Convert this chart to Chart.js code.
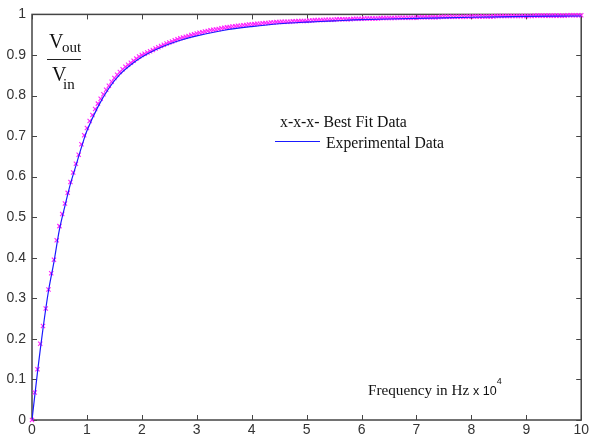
<!DOCTYPE html>
<html>
<head>
<meta charset="utf-8">
<script src="https://cdn.jsdelivr.net/npm/chart.js@4"></script>
<style>
  html, body { margin: 0; padding: 0; background: #fff; }
  #wrap { position: relative; width: 591px; height: 441px; }
  #chart { position: absolute; left: 0; top: 0; }
  .note { position: absolute; font-family: "Liberation Serif", "Times New Roman", serif; color: #111; white-space: nowrap; line-height: 1; }
  .sans { font-family: "Liberation Sans", Arial, sans-serif; }
</style>
</head>
<body>
<div id="wrap">
  <canvas id="chart" width="591" height="441"></canvas>

  <div class="note" style="left:49px;top:31px;font-size:20px;">V</div>
  <div class="note" style="left:62px;top:40px;font-size:15px;">out</div>
  <div style="position:absolute;left:47px;top:59px;width:34px;height:1px;background:#222;"></div>
  <div class="note" style="left:52px;top:64px;font-size:20px;">V</div>
  <div class="note" style="left:63px;top:77px;font-size:15px;">in</div>

  <div class="note" style="left:280px;top:114px;font-size:15.8px;">x-x-x- Best Fit Data</div>
  <div class="note" style="left:326px;top:135px;font-size:15.7px;">Experimental Data</div>

  <div class="note" style="left:368px;top:382px;font-size:15.2px;">Frequency in Hz <span class="sans" style="font-size:12.5px;">x 10</span><sup class="sans" style="font-size:9px;position:relative;top:-5px;">4</sup></div>
</div>
<script>
// frequency axis is in units of 10^4 Hz, best fit sampled every 0.05
const fitX = [
  0, 0.05, 0.1, 0.15, 0.2, 0.25, 0.3, 0.35, 0.4, 0.45, 0.5, 0.55, 0.6, 0.65, 0.7, 0.75, 0.8, 0.85, 0.9, 0.95,
  1, 1.05, 1.1, 1.15, 1.2, 1.25, 1.3, 1.35, 1.4, 1.45, 1.5, 1.55, 1.6, 1.65, 1.7, 1.75, 1.8, 1.85, 1.9, 1.95,
  2, 2.05, 2.1, 2.15, 2.2, 2.25, 2.3, 2.35, 2.4, 2.45, 2.5, 2.55, 2.6, 2.65, 2.7, 2.75, 2.8, 2.85, 2.9, 2.95,
  3, 3.05, 3.1, 3.15, 3.2, 3.25, 3.3, 3.35, 3.4, 3.45, 3.5, 3.55, 3.6, 3.65, 3.7, 3.75, 3.8, 3.85, 3.9, 3.95,
  4, 4.05, 4.1, 4.15, 4.2, 4.25, 4.3, 4.35, 4.4, 4.45, 4.5, 4.55, 4.6, 4.65, 4.7, 4.75, 4.8, 4.85, 4.9, 4.95,
  5, 5.05, 5.1, 5.15, 5.2, 5.25, 5.3, 5.35, 5.4, 5.45, 5.5, 5.55, 5.6, 5.65, 5.7, 5.75, 5.8, 5.85, 5.9, 5.95,
  6, 6.05, 6.1, 6.15, 6.2, 6.25, 6.3, 6.35, 6.4, 6.45, 6.5, 6.55, 6.6, 6.65, 6.7, 6.75, 6.8, 6.85, 6.9, 6.95,
  7, 7.05, 7.1, 7.15, 7.2, 7.25, 7.3, 7.35, 7.4, 7.45, 7.5, 7.55, 7.6, 7.65, 7.7, 7.75, 7.8, 7.85, 7.9, 7.95,
  8, 8.05, 8.1, 8.15, 8.2, 8.25, 8.3, 8.35, 8.4, 8.45, 8.5, 8.55, 8.6, 8.65, 8.7, 8.75, 8.8, 8.85, 8.9, 8.95,
  9, 9.05, 9.1, 9.15, 9.2, 9.25, 9.3, 9.35, 9.4, 9.45, 9.5, 9.55, 9.6, 9.65, 9.7, 9.75, 9.8, 9.85, 9.9, 9.95,
  10
];
const fitY = [
  0.000, 0.068, 0.125, 0.188, 0.232, 0.275, 0.322, 0.362, 0.395, 0.443, 0.478, 0.508, 0.534, 0.560, 0.587, 0.610, 0.632, 0.654, 0.680, 0.702,
  0.720, 0.737, 0.752, 0.767, 0.780, 0.792, 0.803, 0.814, 0.824, 0.834, 0.843, 0.851, 0.858, 0.865, 0.871, 0.876, 0.881, 0.886, 0.891, 0.896,
  0.900, 0.903, 0.906, 0.909, 0.912, 0.916, 0.919, 0.922, 0.925, 0.928, 0.931, 0.933, 0.936, 0.939, 0.941, 0.943, 0.945, 0.947, 0.949, 0.951,
  0.953, 0.955, 0.956, 0.958, 0.959, 0.961, 0.962, 0.963, 0.964, 0.966, 0.967, 0.968, 0.969, 0.970, 0.971, 0.972, 0.972, 0.973, 0.974, 0.975,
  0.975, 0.976, 0.977, 0.977, 0.978, 0.979, 0.979, 0.980, 0.980, 0.981, 0.981, 0.982, 0.982, 0.982, 0.982, 0.983, 0.983, 0.984, 0.984, 0.984,
  0.984, 0.985, 0.985, 0.986, 0.986, 0.986, 0.986, 0.987, 0.987, 0.987, 0.987, 0.988, 0.988, 0.988, 0.988, 0.988, 0.988, 0.989, 0.989, 0.989,
  0.989, 0.990, 0.990, 0.990, 0.990, 0.990, 0.990, 0.991, 0.991, 0.991, 0.991, 0.991, 0.991, 0.992, 0.992, 0.992, 0.992, 0.992, 0.992, 0.992,
  0.992, 0.993, 0.993, 0.993, 0.993, 0.993, 0.993, 0.993, 0.993, 0.994, 0.994, 0.994, 0.994, 0.994, 0.994, 0.994, 0.994, 0.994, 0.994, 0.995,
  0.995, 0.995, 0.995, 0.995, 0.995, 0.995, 0.995, 0.995, 0.995, 0.996, 0.996, 0.996, 0.996, 0.996, 0.996, 0.996, 0.996, 0.996, 0.996, 0.996,
  0.996, 0.996, 0.996, 0.997, 0.997, 0.997, 0.997, 0.997, 0.997, 0.997, 0.997, 0.997, 0.997, 0.997, 0.997, 0.998, 0.998, 0.998, 0.998, 0.998,
  0.998
];

const expX = [0, 0.1, 0.2, 0.3, 0.4, 0.5, 0.6, 0.7, 0.8, 0.9, 1.0, 1.2, 1.4, 1.6, 1.8, 2.0, 2.25, 2.5, 2.75, 3.0, 3.5, 4.0, 4.5, 5.0, 5.5, 6, 7, 8, 9, 10];
const expY = [0, 0.118, 0.225, 0.318, 0.390, 0.470, 0.528, 0.582, 0.627, 0.672, 0.713, 0.772, 0.818, 0.852, 0.876, 0.895, 0.913, 0.927, 0.938, 0.947, 0.961, 0.970, 0.977, 0.981, 0.984, 0.987, 0.990, 0.993, 0.995, 0.996];

const xTicks = [0, 1, 2, 3, 4, 5, 6, 7, 8, 9, 10];
const yTicks = [0, 0.1, 0.2, 0.3, 0.4, 0.5, 0.6, 0.7, 0.8, 0.9, 1];

const frameColor = '#444';
const lineBlue = '#1a1aff';

// matlab style box with inward ticks on all sides
const boxPlugin = {
  id: 'box',
  beforeDatasetsDraw(chart) {
    const { ctx, chartArea: a, scales } = chart;
    ctx.save();
    ctx.strokeStyle = frameColor;
    ctx.lineWidth = 1;
    ctx.beginPath();
    xTicks.forEach(v => {
      const px = Math.round(scales.x.getPixelForValue(v)) + 0.5;
      ctx.moveTo(px, a.bottom); ctx.lineTo(px, a.bottom - 5);
      ctx.moveTo(px, a.top); ctx.lineTo(px, a.top + 5);
    });
    yTicks.forEach(v => {
      const py = Math.round(scales.y.getPixelForValue(v)) + 0.5;
      ctx.moveTo(a.left, py); ctx.lineTo(a.left + 5, py);
      ctx.moveTo(a.right, py); ctx.lineTo(a.right - 5, py);
    });
    ctx.stroke();
    ctx.lineWidth = 1.5;
    ctx.strokeRect(a.left, a.top, a.right - a.left, a.bottom - a.top);
    // legend sample line for the experimental curve
    ctx.strokeStyle = lineBlue;
    ctx.lineWidth = 1.2;
    ctx.beginPath();
    ctx.moveTo(275, 141.5); ctx.lineTo(320, 141.5);
    ctx.stroke();
    ctx.restore();
  }
};

new Chart(document.getElementById('chart'), {
  type: 'scatter',
  data: {
    datasets: [
      {
        label: 'Experimental Data',
        data: expX.map((x, i) => ({ x, y: expY[i] })),
        showLine: true,
        borderColor: lineBlue,
        borderWidth: 1.2,
        pointRadius: 0,
        tension: 0.3
      },
      {
        label: 'Best Fit Data',
        data: fitX.map((x, i) => ({ x, y: fitY[i] })),
        showLine: false,
        pointStyle: 'crossRot',
        pointRadius: 3,
        pointBorderWidth: 1.1,
        borderColor: '#ff22ff',
        clip: false
      }
    ]
  },
  options: {
    responsive: false,
    animation: false,
    layout: { padding: { top: 13, right: 7, left: 0, bottom: 0 } },
    plugins: { legend: { display: false }, tooltip: { enabled: false } },
    scales: {
      x: {
        type: 'linear', min: 0, max: 10,
        afterBuildTicks: s => { s.ticks = xTicks.map(v => ({ value: v })); },
        afterFit: s => { s.height = 21; },
        grid: { display: false, drawTicks: false },
        border: { display: false },
        ticks: { color: '#333', padding: 2, maxRotation: 0, font: { family: 'Liberation Sans', size: 14 } }
      },
      y: {
        type: 'linear', min: 0, max: 1,
        afterBuildTicks: s => { s.ticks = yTicks.map(v => ({ value: v })); },
        afterFit: s => { s.width = 32; },
        grid: { display: false, drawTicks: false },
        border: { display: false },
        ticks: { color: '#333', padding: 6, callback: v => String(Math.round(v * 10) / 10), font: { family: 'Liberation Sans', size: 14 } }
      }
    }
  },
  plugins: [boxPlugin]
});
</script>
</body>
</html>
